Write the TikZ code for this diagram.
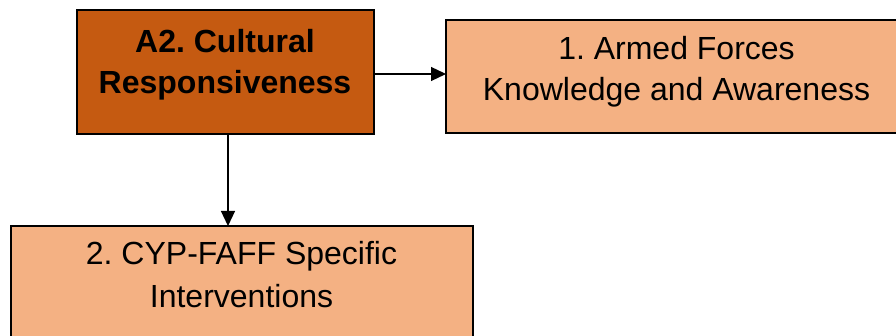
\documentclass[tikz,border=0pt]{standalone}
\usepackage{fontspec}
\setmainfont{Liberation Sans}
\usetikzlibrary{arrows.meta,calc}
\definecolor{darkorange}{HTML}{C55A11}
\definecolor{lightorange}{HTML}{F4B183}
\frenchspacing
\tikzset{
  box/.style={draw=black, line width=2pt, inner sep=0pt, outer sep=0pt},
  mainbox/.style={box, fill=darkorange},
  subbox/.style={box, fill=lightorange},
  txt/.style={anchor=base, inner sep=0pt, font=\fontsize{32}{38}\selectfont},
  boldtxt/.style={txt, font=\fontsize{32}{38}\selectfont\bfseries},
  link/.style={line width=1.2pt, -{Triangle[length=15pt,width=14pt]}}
}
\begin{document}
\begin{tikzpicture}[x=1pt,y=-1pt]
  \useasboundingbox (0,0) rectangle (896,336);
  \clip (0,0) rectangle (896,336);
  % boxes
  \node[mainbox, minimum width=297pt, minimum height=124pt] (a2) at (225.5,72) {};
  \node[subbox, minimum width=461pt, minimum height=113pt] (b1) at (676.5,76.5) {};
  \node[subbox, minimum width=462pt, minimum height=124pt] (b2) at (242,288) {};
  % labels
  \node[boldtxt] (a2l1) at (225,52.7) {A2. Cultural};
  \node[boldtxt] (a2l2) at (225,93.3) {Responsiveness};
  \node[txt] (b1l1) at (676.5,59.3) {1. Armed Forces};
  \node[txt] (b1l2) at (676.5,100.7) {Knowledge and Awareness};
  \node[txt] (b2l1) at (241.5,265) {2. CYP-FAFF Specific};
  \node[txt] (b2l2) at (241.5,307.3) {Interventions};
  % connectors
  \coordinate (ra) at ($(a2.east)+(0,2)$);
  \coordinate (da) at ($(a2.south)+(2.5,0)$);
  \draw[link] (ra) -- (ra -| b1.west);
  \draw[link] (da) -- (da |- b2.north);
\end{tikzpicture}
\end{document}
